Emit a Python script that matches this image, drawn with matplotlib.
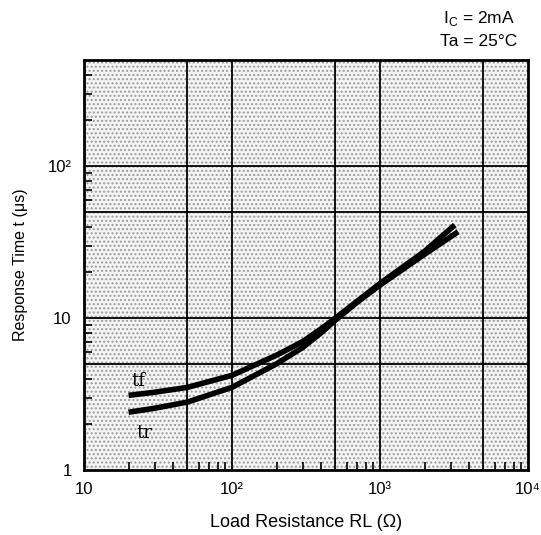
import matplotlib
matplotlib.use("Agg")
import matplotlib.pyplot as plt
from matplotlib.patches import Rectangle
from matplotlib.ticker import FixedLocator, NullFormatter

plt.rcParams['font.family'] = ['Liberation Sans', 'DejaVu Sans']

# Data
rl_tf = [20, 30, 50, 100, 200, 300, 400, 500, 700, 1000, 2000, 3200]
tf = [3.1, 3.25, 3.5, 4.2, 5.7, 7.0, 8.5, 10.0, 12.9, 16.9, 27.5, 41.0]
rl_tr = [20, 30, 50, 100, 200, 300, 400, 500, 700, 1000, 2000, 3370]
tr = [2.4, 2.55, 2.8, 3.5, 5.0, 6.4, 8.0, 9.7, 12.7, 16.5, 26.3, 37.0]

x_grid = [50, 100, 500, 1000, 5000]
y_grid = [5, 10, 50, 100]
x_ticks = [10, 100, 1000, 10000]
x_ticklabels = ['10', '10²', '10³', '10⁴']
y_ticks = [1, 10, 100]
y_ticklabels = ['1', '10', '10²']

fig = plt.figure(figsize=(5.41, 5.35), dpi=100)
ax = fig.add_axes([84/541, 65/535, 444/541, 410/535])
ax.set_xscale('log')
ax.set_yscale('log')
ax.set_xlim(10, 10000)
ax.set_ylim(1, 500)

# stipple-like background
ax.add_patch(Rectangle((0, 0), 1, 1, transform=ax.transAxes, facecolor='#f4f4f4',
                       edgecolor='#9a9a9a', hatch='....', linewidth=0, zorder=0))

for xv in x_grid:
    ax.axvline(xv, color='black', lw=1.3, zorder=1)
for yv in y_grid:
    ax.axhline(yv, color='black', lw=1.3, zorder=1)

ax.plot(rl_tf, tf, color='black', lw=4.0, solid_capstyle='butt', zorder=3)
ax.plot(rl_tr, tr, color='black', lw=4.0, solid_capstyle='butt', zorder=3)

ax.text(21, 3.55, 'tf', fontsize=13, family='DejaVu Serif', zorder=4)
ax.text(22.5, 1.62, 'tr', fontsize=13, family='DejaVu Serif', zorder=4)

for s in ax.spines.values():
    s.set_linewidth(2.0)

ax.xaxis.set_major_locator(FixedLocator(x_ticks))
ax.set_xticklabels(x_ticklabels)
ax.yaxis.set_major_locator(FixedLocator(y_ticks))
ax.set_yticklabels(y_ticklabels)
ax.xaxis.set_minor_locator(FixedLocator([20, 30, 40, 60, 70, 80, 90, 200, 300, 400,
                                         600, 700, 800, 900, 2000, 3000, 4000,
                                         6000, 7000, 8000, 9000]))
ax.yaxis.set_minor_locator(FixedLocator([2, 3, 4, 6, 7, 8, 9, 20, 30, 40,
                                         60, 70, 80, 90, 200, 300, 400]))
ax.xaxis.set_minor_formatter(NullFormatter())
ax.yaxis.set_minor_formatter(NullFormatter())
ax.tick_params(which='major', direction='in', length=0, labelsize=12, pad=9)
ax.tick_params(which='minor', direction='in', length=6, width=1.2)

ax.set_xlabel('Load Resistance RL (Ω)', fontsize=13, labelpad=12)
ax.set_ylabel('Response Time t (μs)', fontsize=11.5, labelpad=14)

fig.text(515/541, 1 - 18/535, 'I$_\\mathregular{C}$ = 2mA', ha='right', va='center', fontsize=12.5)
fig.text(517/541, 1 - 42/535, 'Ta = 25°C', ha='right', va='center', fontsize=12.5)

fig.savefig('out.png', dpi=100)
